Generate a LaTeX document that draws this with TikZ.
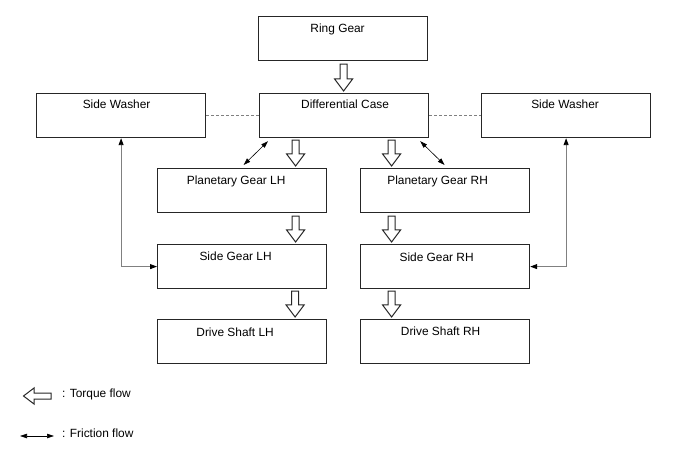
\documentclass[tikz,border=0pt]{standalone}
\usepackage{fontspec}
\setmainfont{Liberation Sans}
\usetikzlibrary{calc,arrows.meta}
\begin{document}
\begin{tikzpicture}[x=1bp,y=-1bp,
  box/.style={draw=black!85,line width=1.2bp,minimum width=169bp,minimum height=44bp,inner sep=0pt,anchor=north west},
  lbl/.style={font=\fontsize{11.9bp}{14bp}\selectfont,inner sep=0pt,anchor=center},
  torque/.style={draw=black!85,line width=1bp,fill=white,line join=miter},
  friction/.style={draw=black,line width=0.6bp,{Triangle[length=7bp,width=4.5bp]}-{Triangle[length=7bp,width=4.5bp]}},
  link/.style={draw=black!50,line width=0.9bp,{Triangle[length=7bp,width=5bp,fill=black,color=black]}-{Triangle[length=7bp,width=5bp,fill=black,color=black]}},
  dashlink/.style={draw=black!50,line width=0.7bp,dash pattern=on 3bp off 2bp}]
\useasboundingbox (0,0) rectangle (688,463);
\newcommand\torquearrow[2]{%
  \path[torque] let \p1=#1, \p2=#2 in
    (\x1-3.5bp,\y1) -- (\x1-3.5bp,\y2+12bp) -- (\x1-9bp,\y2+12bp) -- (\x1,\y2)
    -- (\x1+9bp,\y2+12bp) -- (\x1+3.5bp,\y2+12bp) -- (\x1+3.5bp,\y1) -- cycle;}
% boxes
\node[box] (ring) at (258,16) {};
\node[box] (diff) at (259,93) {};
\node[box] (swl) at (36,93) {};
\node[box] (swr) at (481,93) {};
\node[box] (pgl) at (157,168) {};
\node[box] (pgr) at (360,168) {};
\node[box] (sgl) at (157,244) {};
\node[box] (sgr) at (360,244) {};
\node[box] (dsl) at (157,319) {};
\node[box] (dsr) at (360,319) {};
% labels
\node[lbl] (tring) at ($(ring.north)+(-5.5,13)$) {Ring Gear};
\node[lbl] (tdiff) at ($(diff.north)+(1,11.5)$) {Differential Case};
\node[lbl] (tswl) at ($(swl.north)+(-4.5,11.5)$) {Side Washer};
\node[lbl] (tswr) at ($(swr.north)+(-1,11.5)$) {Side Washer};
\node[lbl] (tpgl) at ($(pgl.north)+(-6,13)$) {Planetary Gear LH};
\node[lbl] (tpgr) at ($(pgr.north)+(-7.5,13)$) {Planetary Gear RH};
\node[lbl] (tsgl) at ($(sgl.north)+(-6.5,12.5)$) {Side Gear LH};
\node[lbl] (tsgr) at ($(sgr.north)+(-8.5,13)$) {Side Gear RH};
\node[lbl] (tdsl) at ($(dsl.north)+(-7,13)$) {Drive Shaft LH};
\node[lbl] (tdsr) at ($(dsr.north)+(-4.5,12.5)$) {Drive Shaft RH};
% torque arrows
\torquearrow{($(ring.south)+(0.5,3)$)}{($(diff.north)+(0,-2)$)}
\torquearrow{($(diff.south)+(-48.5,2)$)}{($(pgl.north)+(0,-2)$)}
\torquearrow{($(diff.south)+(47.5,2)$)}{($(pgr.north)+(0,-2)$)}
\torquearrow{($(pgl.south)+(53.5,3)$)}{($(sgl.north)+(0,-2)$)}
\torquearrow{($(pgr.south)+(-53.5,3)$)}{($(sgr.north)+(0,-2)$)}
\torquearrow{($(sgl.south)+(53,2)$)}{($(dsl.north)+(0,-2)$)}
\torquearrow{($(sgr.south)+(-53.5,2)$)}{($(dsr.north)+(0,-2)$)}
% friction arrows
\draw[friction] ($(diff.south west)+(9,3)$) -- ($(pgl.north)+(1.5,-3)$);
\draw[friction] ($(diff.south east)+(-9,3)$) -- ($(pgr.north)+(-0.5,-3)$);
% side washer links
\draw[link] (swl.south) |- (sgl.west);
\draw[link] (swr.south) |- (sgr.east);
\draw[dashlink] (swl.east) -- (diff.west);
\draw[dashlink] (diff.east) -- (swr.west);
% legend
\coordinate (lt) at (23.5,396);
\path[torque] (lt) -- ++(10.5,-8) -- ++(0,5) -- ++(17,0) -- ++(0,6) -- ++(-17,0) -- ++(0,5) -- cycle;
\node[lbl,anchor=west] (ltt) at (62,394.5) {: Torque flow};
\coordinate (lfa) at (20,436);
\coordinate (lfb) at (54,436);
\draw[friction] (lfa) -- (lfb);
\node[lbl,anchor=west] (lft) at (62,433.5) {: Friction flow};
\end{tikzpicture}
\end{document}
